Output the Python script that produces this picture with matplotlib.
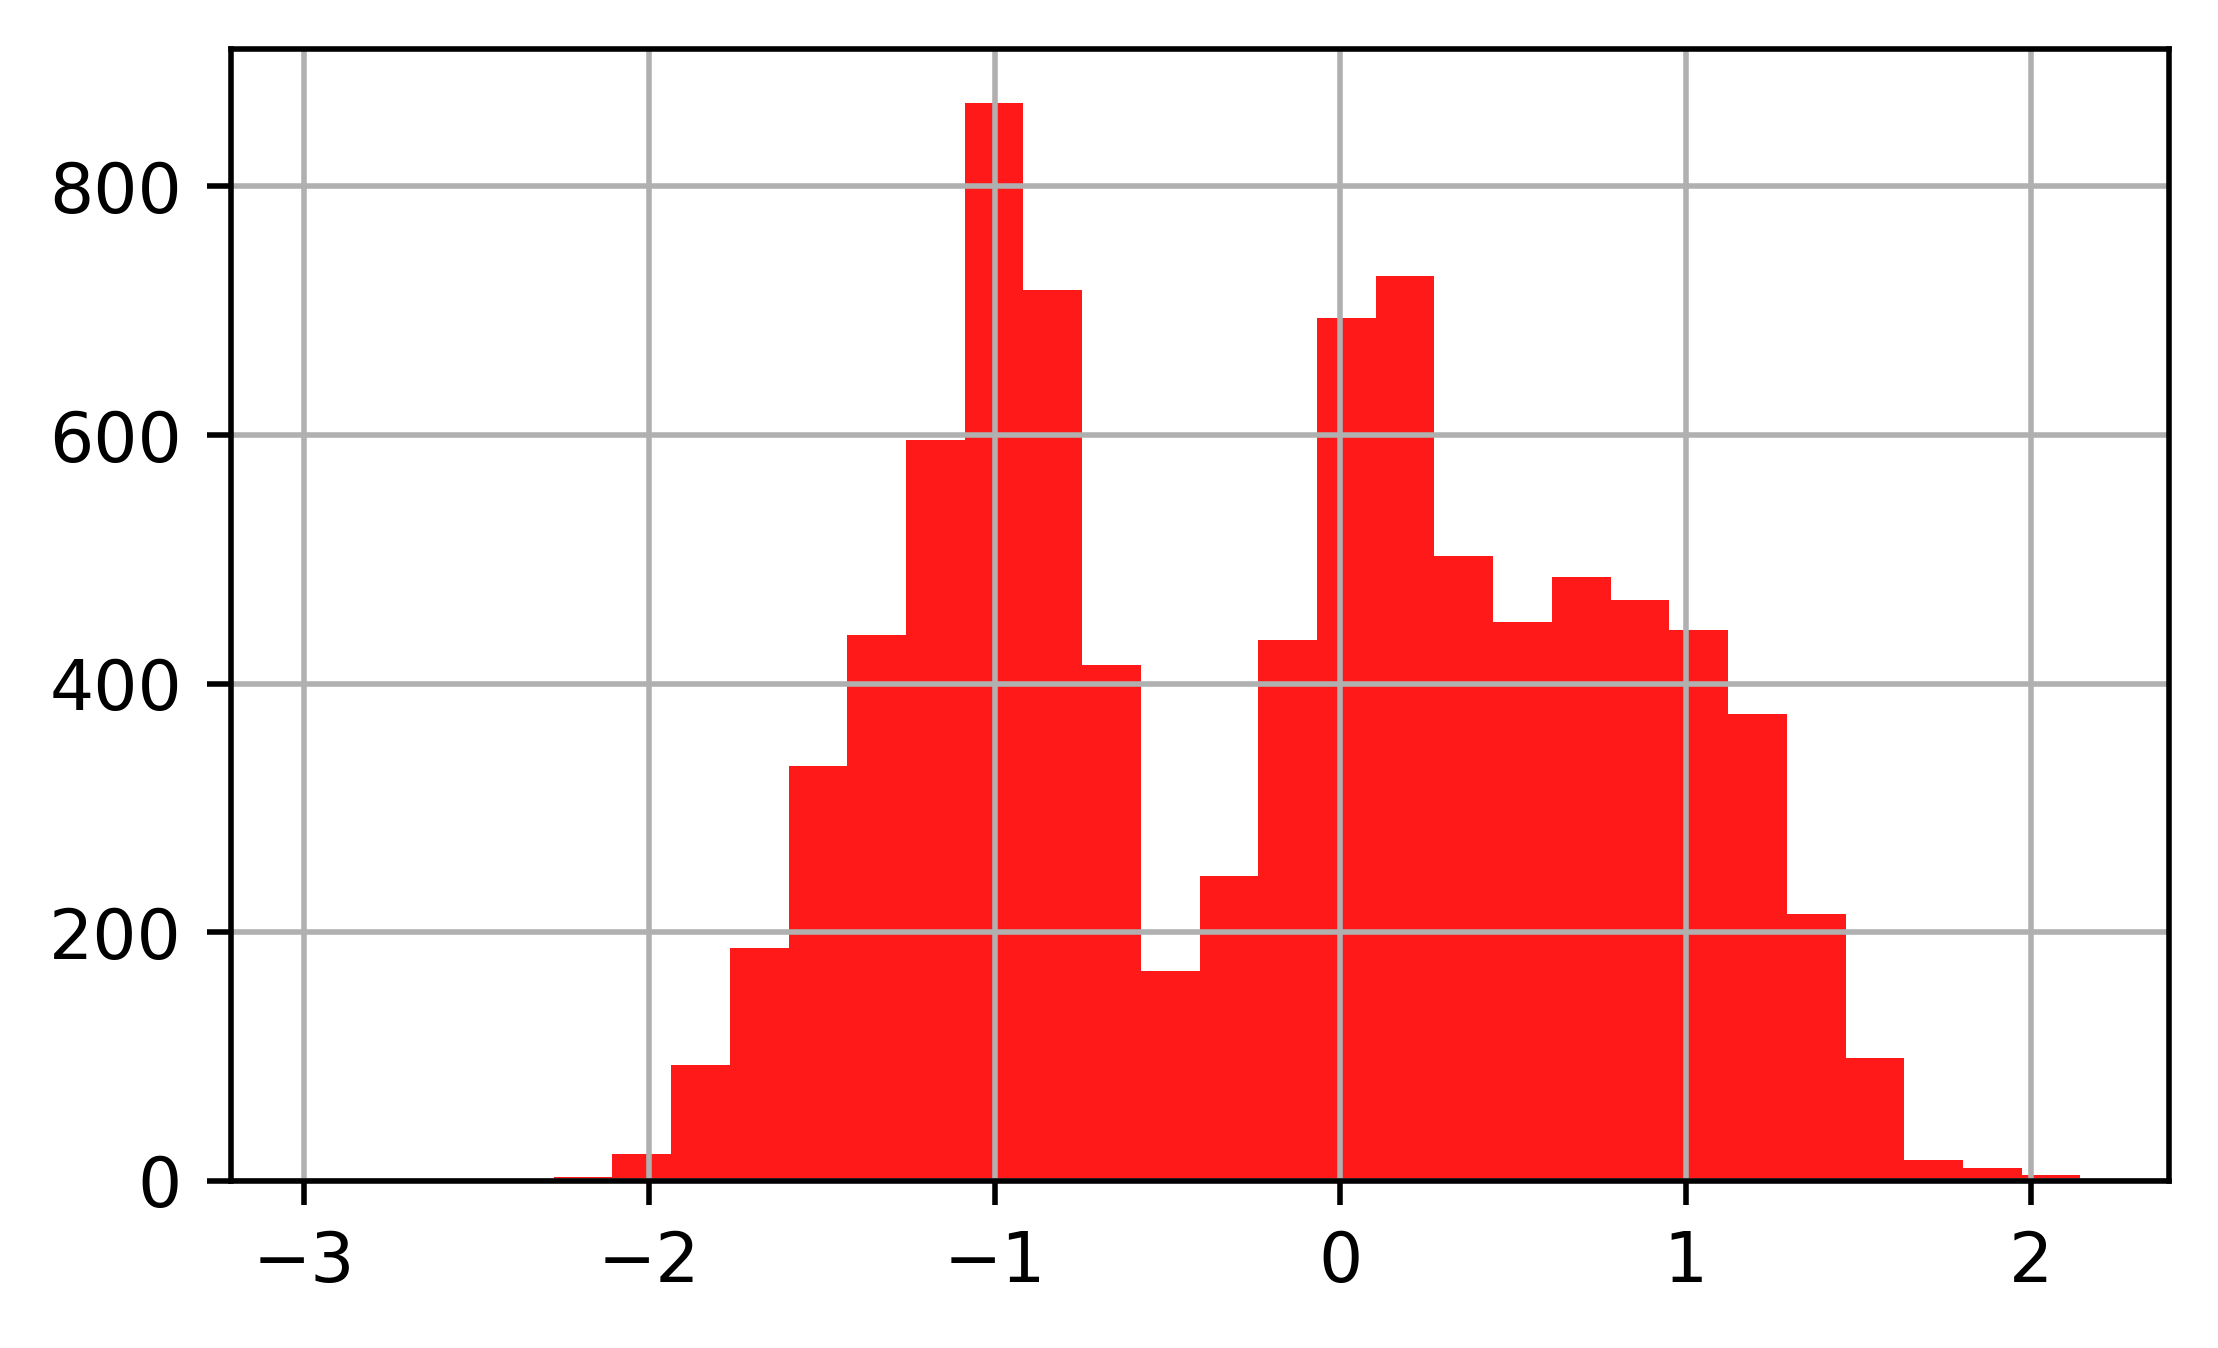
import numpy as np
import matplotlib
matplotlib.use('Agg')
import matplotlib.pyplot as plt

# histogram: 30 equal bins between data min and max
x_min, x_max = -2.957, 2.143
n_bins = 30
counts = [1, 0, 0, 0,
          3, 22, 93, 187, 334, 439, 596, 867, 717, 415,
          169, 245, 435, 694, 728, 503, 450, 486, 467, 443,
          376, 215, 99, 17, 10, 5]

edges = np.linspace(x_min, x_max, n_bins + 1)
centers = (edges[:-1] + edges[1:]) / 2

fig = plt.figure(figsize=(4.436, 2.696), dpi=500)
ax = fig.add_axes([0.104, 0.124, 0.8737, 0.8394])
ax.hist(centers, bins=edges, weights=counts, color='red', alpha=0.9)
ax.grid(True)
ax.set_xticks([-3, -2, -1, 0, 1, 2])
ax.set_yticks([0, 200, 400, 600, 800])

fig.savefig('out.png', dpi=500)
